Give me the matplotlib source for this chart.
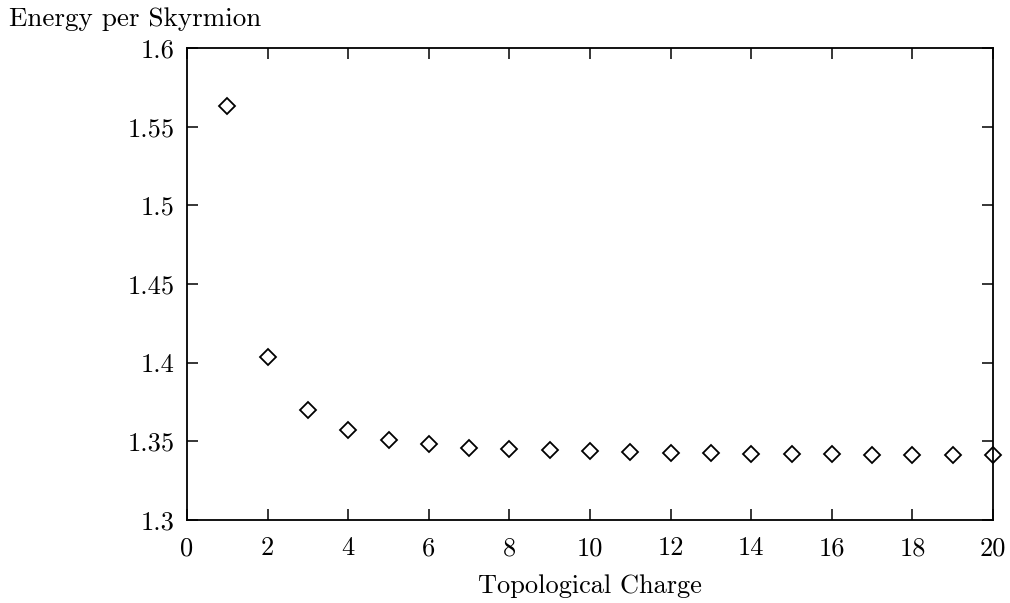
import matplotlib
matplotlib.use("Agg")
import matplotlib.pyplot as plt

plt.rcParams["font.family"] = ["cmr10", "DejaVu Serif"]
plt.rcParams["axes.formatter.use_mathtext"] = True
plt.rcParams["mathtext.fontset"] = "cm"

# data
charge = [1, 2, 3, 4, 5, 6, 7, 8, 9, 10, 11, 12, 13, 14, 15, 16, 17, 18, 19, 20]
energy = [1.563, 1.4036, 1.370, 1.357, 1.351, 1.348, 1.346, 1.345, 1.3443, 1.3437,
          1.3431, 1.3427, 1.3424, 1.3422, 1.3419, 1.3417, 1.3415, 1.3414, 1.3413, 1.3412]
xticks = [0, 2, 4, 6, 8, 10, 12, 14, 16, 18, 20]
yticks = [1.3, 1.35, 1.4, 1.45, 1.5, 1.55, 1.6]
ytick_labels = ["1.3", "1.35", "1.4", "1.45", "1.5", "1.55", "1.6"]

fig = plt.figure(figsize=(10.1, 6.03), dpi=100)
ax = fig.add_axes([187 / 1010, 1 - 520 / 603, (993 - 187) / 1010, (520 - 48) / 603])

ax.plot(charge, energy, linestyle="none", marker="D", markersize=8,
        markerfacecolor="none", markeredgecolor="black", markeredgewidth=1.3,
        clip_on=False)

ax.set_xlim(0, 20)
ax.set_ylim(1.3, 1.6)
ax.set_xticks(xticks)
ax.set_xticklabels([str(t) for t in xticks])
ax.set_yticks(yticks)
ax.set_yticklabels(ytick_labels)
ax.tick_params(direction="in", length=8, width=1.1, top=True, right=True,
               labelsize=19)
ax.tick_params(axis="y", pad=9)
ax.tick_params(axis="x", pad=12)
for s in ax.spines.values():
    s.set_linewidth(1.3)

ax.set_xlabel("Topological Charge", fontsize=19, labelpad=10)
fig.text(9 / 1010, 1 - 19 / 603, "Energy per Skyrmion", fontsize=19.5,
         ha="left", va="center")

fig.savefig("out.png", dpi=100)
